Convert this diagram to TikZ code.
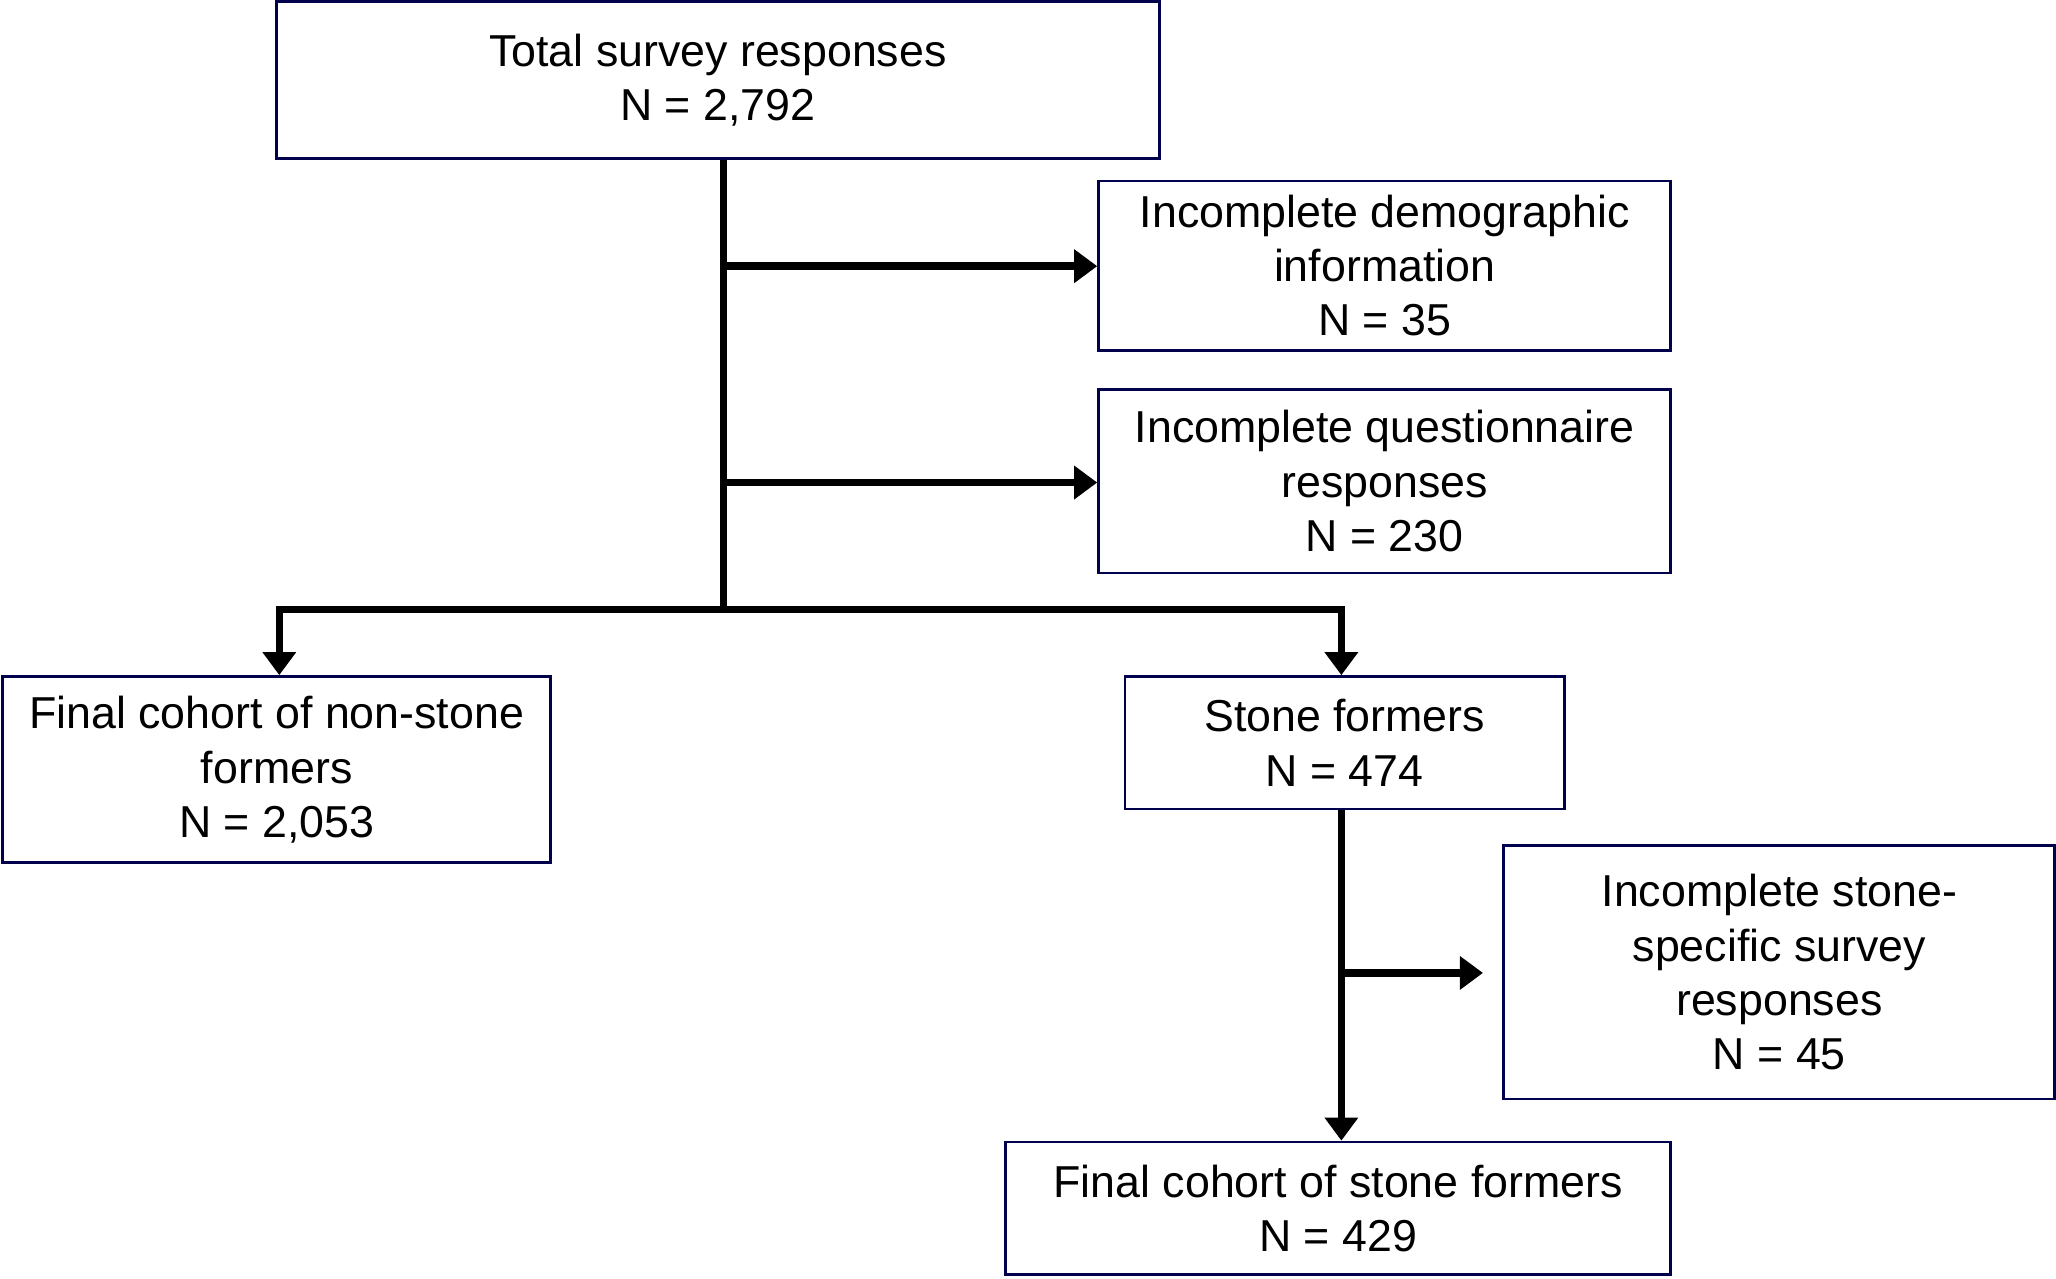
\documentclass[tikz,border=0pt]{standalone}
\usepackage{fontspec}
\setmainfont{Liberation Sans}
\usetikzlibrary{arrows.meta}
\begin{document}
\begin{tikzpicture}[x=0.01cm,y=-0.01cm,
  box/.style={draw=black!70!blue,line width=0.6pt,align=center,inner sep=0pt,
    font=\fontsize{9.7pt}{11.8pt}\selectfont},
  ln/.style={line width=1.6pt},
  arr/.style={ln,-{Triangle[length=5pt,width=7pt]}}]
\useasboundingbox (0,0) rectangle (1568,975);
\node[box,minimum width=6.73cm,minimum height=1.2cm] (A) at (547.5,61) {Total survey responses\\N = 2,792};
\node[box,minimum width=4.36cm,minimum height=1.29cm] (B) at (1056,202.5) {Incomplete demographic\\information\\N = 35};
\node[box,minimum width=4.36cm,minimum height=1.4cm] (C) at (1056,367) {Incomplete questionnaire\\responses\\N = 230};
\node[box,minimum width=4.18cm,minimum height=1.42cm] (D) at (211,587) {Final cohort of non-stone\\formers\\N = 2,053};
\node[box,minimum width=3.35cm,minimum height=1.01cm] (E) at (1025.5,566.5) {Stone formers\\N = 474};
\node[box,minimum width=4.2cm,minimum height=1.93cm] (F) at (1357,741.5) {Incomplete stone-\\specific survey\\responses\\N = 45};
\node[box,minimum width=5.07cm,minimum height=1.01cm] (G) at (1020.5,921.5) {Final cohort of stone formers\\N = 429};
\coordinate (j) at (552,465);
\coordinate (b1) at (552,203);
\coordinate (b2) at (552,368);
\coordinate (l) at (213,465);
\coordinate (r) at (1023,465);
\coordinate (b3) at (1023,742);
\coordinate (f3) at (1131,742);
\draw[ln] (A.south -| j) -- (j);
\draw[arr] (b1) -- (B.west |- b1);
\draw[arr] (b2) -- (C.west |- b2);
\draw[ln,line join=miter,{Triangle[length=5pt,width=7pt]}-{Triangle[length=5pt,width=7pt]}] (l |- D.north) -- (l) -- (r) -- (r |- E.north);
\draw[arr] (E.south -| r) -- (r |- G.north);
\draw[arr] (b3) -- (f3);
\end{tikzpicture}
\end{document}
